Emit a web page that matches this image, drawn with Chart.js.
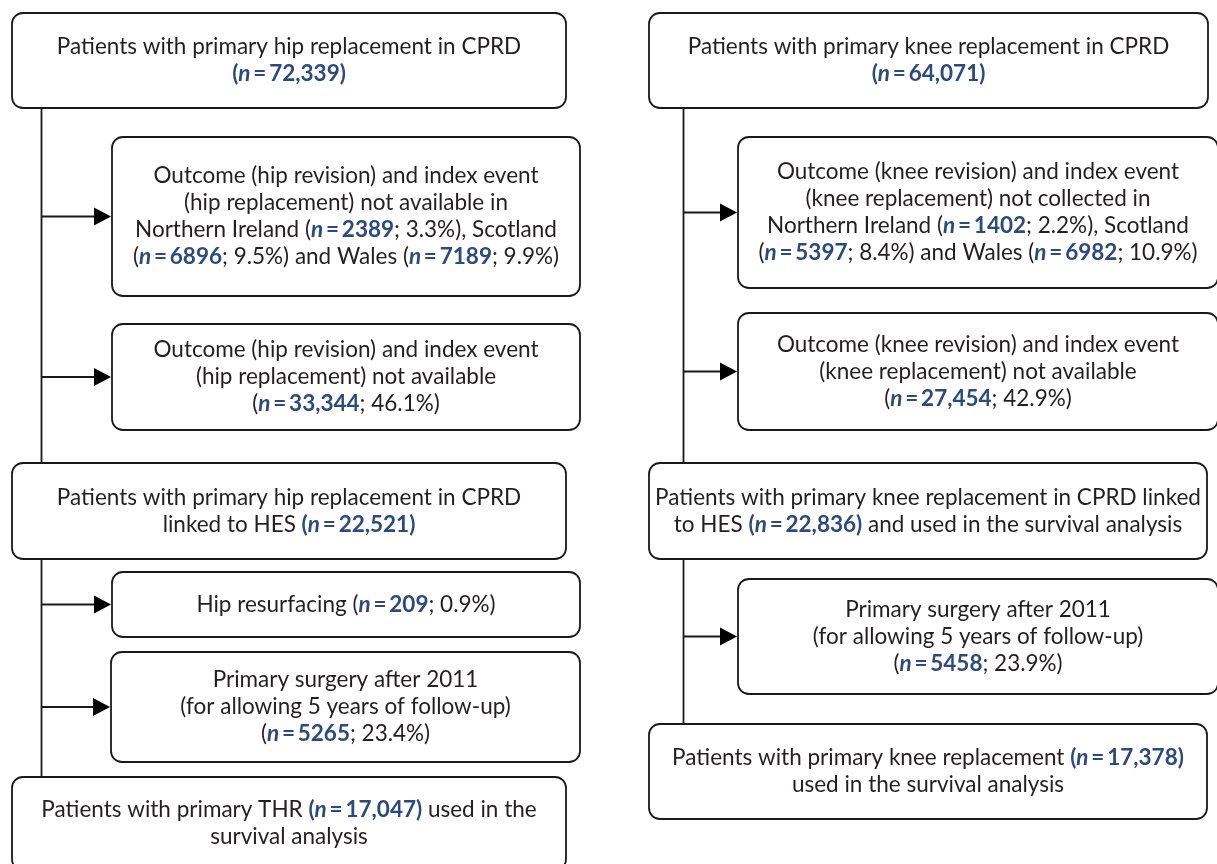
<!DOCTYPE html>
<html>
<head>
<meta charset="utf-8">
<script src="https://cdn.jsdelivr.net/npm/chart.js@4/dist/chart.umd.min.js"></script>
<style>
  html, body { margin: 0; padding: 0; background: #fff; }
</style>
</head>
<body>
<canvas id="flow" width="1217" height="864"></canvas>
<script>
// numbers shown in the boxes
const hipNumbers = ['72,339', '2389', '6896', '7189', '33,344', '22,521', '209', '5265', '17,047']
const hipPercents = ['3.3%', '9.5%', '9.9%', '46.1%', '0.9%', '23.4%']
const kneeNumbers = ['64,071', '1402', '5397', '6982', '27,454', '22,836', '5458', '17,378']
const kneePercents = ['2.2%', '8.4%', '10.9%', '42.9%', '23.9%']

// box texts, {N#} = "(n = x)" in blue, {n#} = "n = x" in blue, {p#} = percent
const hipTexts = [
    ['Patients with primary hip replacement in CPRD', '{N0}'],
    ['Outcome (hip revision) and index event', '(hip replacement) not available in', 'Northern Ireland ({n1}; {p0}), Scotland', '({n2}; {p1}) and Wales ({n3}; {p2})'],
    ['Outcome (hip revision) and index event', '(hip replacement) not available', '({n4}; {p3})'],
    ['Patients with primary hip replacement in CPRD', 'linked to HES {N5}'],
    ['Hip resurfacing ({n6}; {p4})'],
    ['Primary surgery after 2011', '(for allowing 5 years of follow-up)', '({n7}; {p5})'],
    ['Patients with primary THR {N8} used in the', 'survival analysis']
]
const kneeTexts = [
    ['Patients with primary knee replacement in CPRD', '{N0}'],
    ['Outcome (knee revision) and index event', '(knee replacement) not collected in', 'Northern Ireland ({n1}; {p0}), Scotland', '({n2}; {p1}) and Wales ({n3}; {p2})'],
    ['Outcome (knee revision) and index event', '(knee replacement) not available', '({n4}; {p3})'],
    ['Patients with primary knee replacement in CPRD linked', 'to HES {N5} and used in the survival analysis'],
    ['Primary surgery after 2011', '(for allowing 5 years of follow-up)', '({n6}; {p4})'],
    ['Patients with primary knee replacement {N7}', 'used in the survival analysis']
]

// layout (page units, y down): box [x0, y0, x1, y1], side boxes get an arrow from the spine
const hipLayout = {
    spine: 41.5,
    boxes: [[12, 13, 566, 108], [112, 137, 580, 296], [112, 324, 580, 430], [12, 463, 566, 559],
            [112, 572, 580, 637], [111, 652, 580, 762], [12, 777, 566, 870]],
    side: [false, true, true, false, true, true, false]
}
const kneeLayout = {
    spine: 683.5,
    boxes: [[649, 13, 1208, 108], [738, 137, 1218, 288], [738, 313, 1218, 430], [649, 463, 1207, 559],
            [738, 579, 1218, 694], [649, 724, 1207, 819]],
    side: [false, true, true, false, true, false]
}

const FONT = 'Lato, "Open Sans", sans-serif'
const SIZE = 22.5
const LINE_H = 27
const INK = '#231f20'
const BLUE = '#2b4a7d'

const parseLine = (line, numbers, percents) => {
    const runs = []
    const re = /\{([Nnp])(\d+)\}/g
    let last = 0, m
    const plain = (t) => { if (t) runs.push({ text: t, font: `400 ${SIZE}px ${FONT}`, color: INK }) }
    const bold = (t) => runs.push({ text: t, font: `700 ${SIZE}px ${FONT}`, color: BLUE })
    const ital = (t) => runs.push({ text: t, font: `italic 700 ${SIZE}px ${FONT}`, color: BLUE })
    while ((m = re.exec(line)) !== null) {
        plain(line.slice(last, m.index))
        const i = +m[2]
        if (m[1] === 'N') { bold('('); ital('n'); bold('\u2009=\u2009' + numbers[i] + ')') }
        else if (m[1] === 'n') { ital('n'); bold('\u2009=\u2009' + numbers[i]) }
        else plain(percents[i])
        last = re.lastIndex
    }
    plain(line.slice(last))
    return runs
}

const roundRect = (ctx, x0, y0, x1, y1, r) => {
    ctx.beginPath()
    ctx.moveTo(x0 + r, y0)
    ctx.arcTo(x1, y0, x1, y1, r)
    ctx.arcTo(x1, y1, x0, y1, r)
    ctx.arcTo(x0, y1, x0, y0, r)
    ctx.arcTo(x0, y0, x1, y0, r)
    ctx.closePath()
}

const drawColumn = (chart, layout, texts, numbers, percents) => {
    const ctx = chart.ctx
    const xs = chart.scales.x, ys = chart.scales.y
    const px = v => xs.getPixelForValue(v)
    const py = v => ys.getPixelForValue(v)

    ctx.save()
    ctx.strokeStyle = '#1a1a1a'
    ctx.fillStyle = '#1a1a1a'
    ctx.lineWidth = 1.8

    // spine segments between the main boxes
    const main = layout.boxes.filter((b, i) => !layout.side[i])
    for (let i = 0; i < main.length - 1; i++) {
        ctx.beginPath()
        ctx.moveTo(px(layout.spine), py(main[i][3]))
        ctx.lineTo(px(layout.spine), py(main[i + 1][1]))
        ctx.stroke()
    }

    layout.boxes.forEach((b, i) => {
        const [x0, y0, x1, y1] = b
        roundRect(ctx, px(x0), py(y0), px(x1), py(y1), 11)
        ctx.fillStyle = '#fff'
        ctx.fill()
        ctx.stroke()

        const cy = (y0 + y1) / 2
        if (layout.side[i]) {
            const tip = px(x0) - 1
            ctx.beginPath()
            ctx.moveTo(px(layout.spine), py(cy))
            ctx.lineTo(tip - 16, py(cy))
            ctx.stroke()
            ctx.beginPath()
            ctx.moveTo(tip, py(cy))
            ctx.lineTo(tip - 17, py(cy) - 9)
            ctx.lineTo(tip - 17, py(cy) + 9)
            ctx.closePath()
            ctx.fillStyle = '#000'
            ctx.fill()
        }

        // text, centred in the box
        const lines = texts[i]
        const cx = px((x0 + x1) / 2)
        ctx.textBaseline = 'middle'
        ctx.textAlign = 'left'
        lines.forEach((line, k) => {
            const runs = parseLine(line, numbers, percents)
            let w = 0
            runs.forEach(r => { ctx.font = r.font; r.w = ctx.measureText(r.text).width; w += r.w })
            let x = cx - w / 2
            const y = py(cy + (k - (lines.length - 1) / 2) * LINE_H)
            runs.forEach(r => {
                ctx.font = r.font
                ctx.fillStyle = r.color
                ctx.fillText(r.text, x, y)
                x += r.w
            })
        })
    })
    ctx.restore()
}

const flowPlugin = {
    id: 'flow',
    beforeDraw(chart) {
        const ctx = chart.ctx
        ctx.save()
        ctx.fillStyle = '#fff'
        ctx.fillRect(0, 0, chart.width, chart.height)
        ctx.restore()
    },
    afterDraw(chart) {
        drawColumn(chart, hipLayout, hipTexts, hipNumbers, hipPercents)
        drawColumn(chart, kneeLayout, kneeTexts, kneeNumbers, kneePercents)
    }
}

const ctx = document.getElementById('flow').getContext('2d')
const flowChart = new Chart(ctx, {
    type: 'scatter',
    data: { datasets: [{ data: [] }] },
    options: {
        responsive: false,
        animation: false,
        layout: { padding: 0 },
        plugins: { legend: { display: false }, tooltip: { enabled: false } },
        scales: {
            x: { type: 'linear', min: 0, max: 1217, display: false },
            y: { type: 'linear', min: 0, max: 864, reverse: true, display: false }
        }
    },
    plugins: [flowPlugin]
})
</script>
</body>
</html>
